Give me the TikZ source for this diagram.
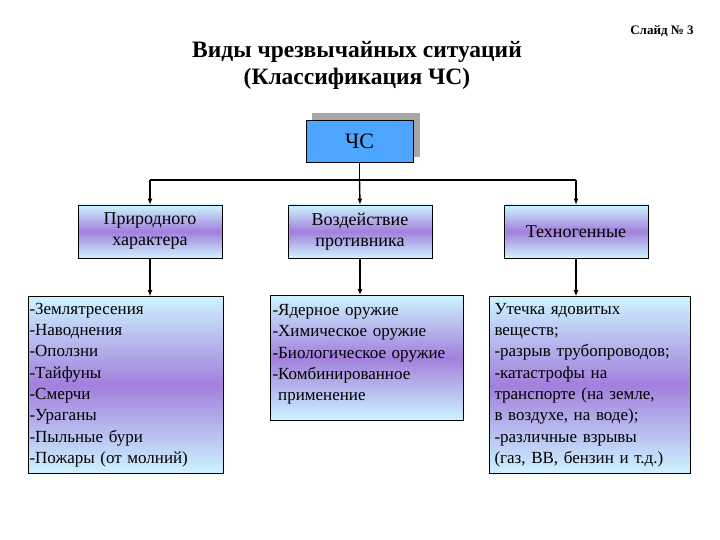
\documentclass[tikz,border=0pt]{standalone}
\usepackage{fontspec}
\setmainfont{Liberation Serif}
\usetikzlibrary{arrows.meta}
\tikzset{
  grad/.style={draw=black, line width=0.6pt, top color=blue!22!cyan!20, bottom color=blue!22!cyan!20, middle color=violet!55!blue!50, align=center, inner sep=0pt},
  lst/.style={grad, align=left, font=\fontsize{17}{21.3}\selectfont, inner sep=0pt},
  conn/.style={line width=1.4pt, -{Latex[length=6pt,width=5pt]}}
}
\begin{document}
\begin{tikzpicture}[x=1pt,y=-1pt]
  \useasboundingbox[fill=white] (0,0) rectangle (720,540);
  % titles
  \node[font=\bfseries\fontsize{23.5}{27}\selectfont, align=center] (title) at (357,65)
    {Виды чрезвычайных ситуаций\\(Классификация ЧС)};
  \node[font=\bfseries\fontsize{13}{15}\selectfont] (slide) at (662,31) {Слайд № 3};
  % root box with shadow
  \fill[gray!70] (312,113) rectangle (420,157);
  \node[draw, line width=0.6pt, fill=blue!50!cyan!70, minimum width=107pt, minimum height=42pt,
        font=\fontsize{22}{26}\selectfont] (cs) at (359.5,141) {ЧС};
  % upper row
  \node[grad, minimum width=144pt, minimum height=53pt, font=\fontsize{18}{21}\selectfont] (nat) at (150,231.5) {Природного\\характера};
  \node[grad, minimum width=144pt, minimum height=53pt, font=\fontsize{18}{21}\selectfont] (enemy) at (360,231.5) {Воздействие\\противника};
  \node[grad, minimum width=144pt, minimum height=53pt, font=\fontsize{18}{21}\selectfont] (tech) at (576,231.5) {Техногенные};
  % lower row
  \node[lst, minimum width=195pt, minimum height=177pt, text width=192pt] (natl) at (125.5,385)
    {-Землятресения\\-Наводнения\\-Оползни\\-Тайфуны\\-Смерчи\\-Ураганы\\-Пыльные бури\\-Пожары (от молний)};
  \node[lst, minimum width=193pt, minimum height=125pt, text width=188pt, anchor=north] (enemyl) at (366.5,295)
    {\\[-17pt]-Ядерное оружие\\-Химическое оружие\\-Биологическое оружие\\-Комбинированное\\\ применение\\[14pt]};
  \node[lst, minimum width=201pt, minimum height=177pt, text width=190pt] (techl) at (589.5,385)
    {Утечка ядовитых\\веществ;\\-разрыв трубопроводов;\\-катастрофы на\\транспорте (на земле,\\в воздухе, на воде);\\-различные взрывы\\(газ, ВВ, бензин и т.д.)};
  % connectors
  \coordinate (hub) at (cs.south |- 0,180);
  \draw[line width=1.8pt] (cs.south) -- (hub);
  \draw[line width=1.4pt] (nat.north |- hub) -- (tech.north |- hub);
  \draw[conn] (nat.north |- hub) -- (nat.north);
  \draw[conn] (hub) -- (enemy.north);
  \draw[conn] (tech.north |- hub) -- (tech.north);
  \draw[conn] (nat.south) -- (nat.south |- natl.north);
  \draw[conn] (enemy.south) -- (enemy.south |- enemyl.north);
  \draw[conn] (tech.south) -- (tech.south |- techl.north);
\end{tikzpicture}
\end{document}
